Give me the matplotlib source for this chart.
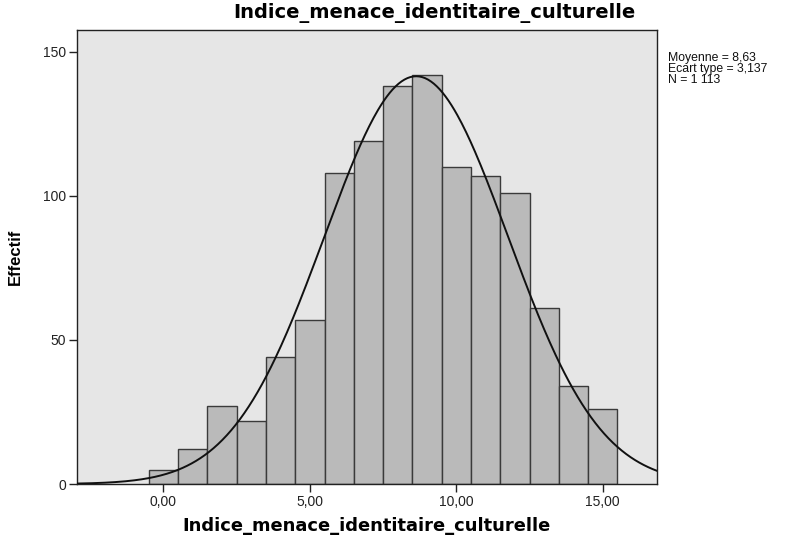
import numpy as np
import matplotlib
matplotlib.use('Agg')
import matplotlib.pyplot as plt

# histogram data
bin_centers = [0, 1, 2, 3, 4, 5, 6, 7, 8, 9, 10, 11, 12, 13, 14, 15]
counts = [5, 12, 27, 22, 44, 57, 108, 119, 138, 142, 110, 107, 101, 61, 34, 26]
moyenne = 8.63
ecart_type = 3.137
n_total = 1113
var_name = 'Indice_menace_identitaire_culturelle'

plt.rcParams['font.family'] = ['Liberation Sans', 'DejaVu Sans']

fig = plt.figure(figsize=(7.96, 5.39), dpi=100)
ax = fig.add_axes([77/796, 1 - 484/539, (657-77)/796, (484-30)/539])
ax.set_facecolor('#e6e6e6')

ax.bar(bin_centers, counts, width=1.0, color='#bababa', edgecolor='#3a3a3a',
       linewidth=1.0, zorder=2)

# normal curve scaled to counts (bin width 1)
xs = np.linspace(-3, 17, 400)
ys = n_total * 1.0 / (ecart_type * np.sqrt(2 * np.pi)) * np.exp(-0.5 * ((xs - moyenne) / ecart_type) ** 2)
ax.plot(xs, ys, color='#111111', linewidth=1.4, zorder=3)

ax.set_xlim(-2.95, 16.85)
ax.set_ylim(0, 157.6)
ax.set_xticks([0, 5, 10, 15])
ax.set_xticklabels(['0,00', '5,00', '10,00', '15,00'])
ax.set_yticks([0, 50, 100, 150])
ax.set_yticklabels(['0', '50', '100', '150'])
ax.tick_params(direction='out', length=6, width=1, color='#222222', labelsize=10,
               labelcolor='#222222', pad=2)
for s in ax.spines.values():
    s.set_color('#222222')
    s.set_linewidth(1.0)

# SPSS draws these titles quite wide, DejaVu bold is closer than Arial
ax.set_xlabel(var_name, fontsize=12.9, fontweight='bold', family='DejaVu Sans', labelpad=6)
ax.set_ylabel('Effectif', fontsize=12, fontweight='bold', labelpad=14)

fig.text(434/796, 1 - 13/539, var_name, ha='center', va='center',
         fontsize=14, fontweight='bold', family='DejaVu Sans')

fig.text(668/796, 1 - 52/539,
         'Moyenne = 8,63\nEcart type = 3,137\nN = 1 113',
         ha='left', va='top', fontsize=8.8, linespacing=0.9, color='#111111')

plt.savefig('out.png', dpi=100)
